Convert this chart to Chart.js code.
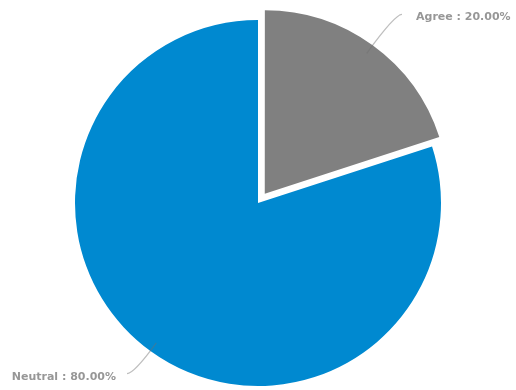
<!DOCTYPE html>
<html>
<head>
<meta charset="utf-8">
<script src="https://cdn.jsdelivr.net/npm/chart.js@4/dist/chart.umd.min.js"></script>
<style>
  html, body { margin: 0; padding: 0; background: #ffffff; }
  #wrap { width: 516px; height: 390px; }
</style>
</head>
<body>
<div id="wrap"><canvas id="pie" width="516" height="390"></canvas></div>
<script>
// Survey answers and their shares (percent)
const categories = ['Agree', 'Neutral'];
const shares = [20, 80];
const sliceColors = ['#808080', '#0089D0'];
// Chart.js arc offset option (the arc shifts by about a quarter of this)
const sliceOffsets = [46, 0];
// how far each leader line reaches past the rim
const leaderReach = [38, 28];

// Same shift that ArcElement.draw applies for a given offset
function arcShift(offset, circumference) {
  const q = (offset || 0) / 4;
  const fix = 1 - Math.sin(Math.min(Math.PI, circumference || 0));
  return q + q * fix;
}

// Outside labels with a bent leader line, "Name : 00.00%"
const outsideLabels = {
  id: 'outsideLabels',
  afterDatasetsDraw(chart) {
    const ctx = chart.ctx;
    const meta = chart.getDatasetMeta(0);
    const total = shares.reduce((a, b) => a + b, 0);
    ctx.save();
    meta.data.forEach((arc, i) => {
      const p = arc.getProps(['x', 'y', 'startAngle', 'endAngle', 'outerRadius', 'circumference'], true);
      const mid = (p.startAngle + p.endAngle) / 2;
      const dx = Math.cos(mid), dy = Math.sin(mid);
      const off = arcShift(sliceOffsets[i], p.circumference);
      const cx = p.x + dx * off, cy = p.y + dy * off;
      const r = p.outerRadius;
      const x0 = cx + dx * (r - 10), y0 = cy + dy * (r - 10);
      const x1 = cx + dx * (r + leaderReach[i]), y1 = cy + dy * (r + leaderReach[i]);
      const side = dx >= 0 ? 1 : -1;
      const x2 = x1 + side * 7, y2 = y1;

      ctx.beginPath();
      ctx.moveTo(x0, y0);
      ctx.quadraticCurveTo(x1, y1, x2, y2);
      ctx.strokeStyle = 'rgba(110,110,110,0.45)';
      ctx.lineWidth = 1.3;
      ctx.stroke();

      const pct = (shares[i] / total * 100).toFixed(2);
      ctx.font = 'bold 11px "DejaVu Sans"';
      ctx.fillStyle = '#979797';
      ctx.textBaseline = 'middle';
      ctx.textAlign = side > 0 ? 'left' : 'right';
      ctx.fillText(categories[i] + ' : ' + pct + '%', x2 + side * (side > 0 ? 14 : 11), y2 + 3);
    });
    ctx.restore();
  }
};

new Chart(document.getElementById('pie'), {
  type: 'pie',
  data: {
    labels: categories,
    datasets: [{
      data: shares,
      backgroundColor: sliceColors,
      offset: sliceOffsets,
      borderWidth: 0,
      hoverOffset: 0
    }]
  },
  options: {
    responsive: false,
    animation: false,
    radius: 183,
    layout: { padding: { top: 16, bottom: 0, left: 0, right: 0 } },
    plugins: {
      legend: { display: false },
      tooltip: { enabled: false }
    }
  },
  plugins: [outsideLabels]
});
</script>
</body>
</html>
